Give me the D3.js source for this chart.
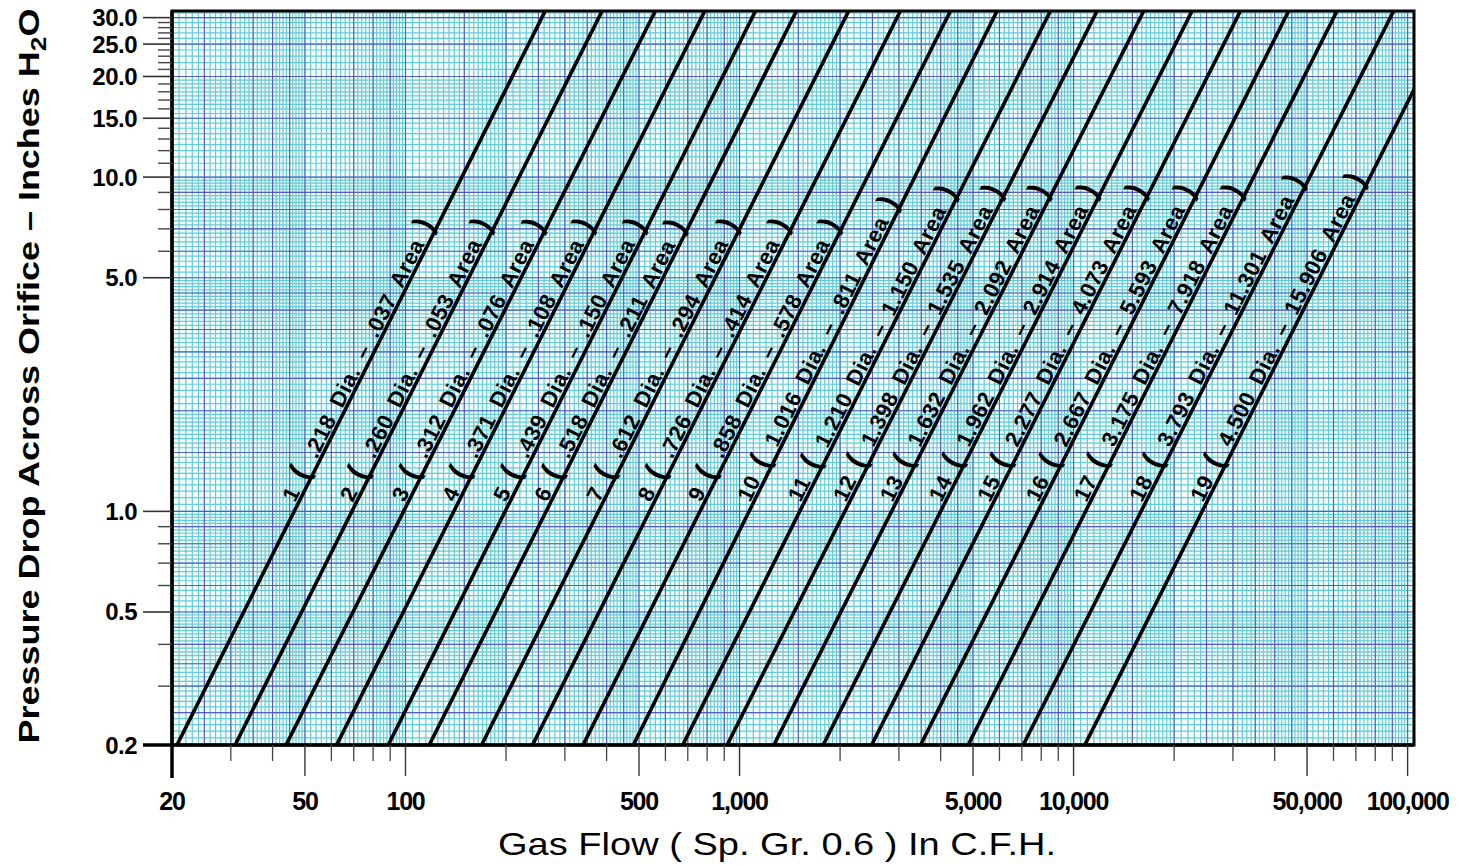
<!DOCTYPE html>
<html><head><meta charset="utf-8">
<script src="https://cdn.jsdelivr.net/npm/d3@7"></script>
<style>body{margin:0;background:#fff;} svg{display:block}</style>
</head><body>
<svg id="chart" width="1466" height="866"></svg>
<script>
// ---------------- data ----------------
const orificeNumbers = [1,2,3,4,5,6,7,8,9,10,11,12,13,14,15,16,17,18,19];
const diameters = [".218",".260",".312",".371",".439",".518",".612",".726",".858","1.016","1.210","1.398","1.632","1.962","2.277","2.667","3.175","3.793","4.500"];
const areas = [".037",".053",".076",".108",".150",".211",".294",".414",".578",".811","1.150","1.535","2.092","2.914","4.073","5.593","7.918","11.301","15.906"];
// gas flow (CFH) read where each line crosses 0.2" and 30" pressure drop
const flowAtLowDrop  = [20.7,30.9,43.9,62.2,88.8,117.8,169,240,340,481,676,918,1267,1780,2486,3484,4836,7066,10806];
const flowAtHighDrop = [256,379,547,769,1091,1447,2074,2962,4182,5768,8330,11490,15846,22120,30860,43040,60080,88740,134000];
const lowDrop = 0.2, highDrop = 30;
const xDomain = [20, 104500];
const yDomain = [0.2, 31.4];
const xTickValues = [20,50,100,500,1000,5000,10000,50000,100000];
const xTickLabels = ["20","50","100","500","1,000","5,000","10,000","50,000","100,000"];
const xMinorTicks = [30,40,60,70,80,90,200,300,400,600,700,800,900,2000,3000,4000,6000,7000,8000,9000,20000,30000,40000,60000,70000,80000,90000];
const yTickValues = [0.2,0.5,1,5,10,15,20,25,30];
const yTickLabels = ["0.2","0.5","1.0","5.0","10.0","15.0","20.0","25.0","30.0"];
const yMinorTicks = [0.3,0.4,0.6,0.7,0.8,0.9,6,7,8,9,11,12,13,14,16,17,18,19,21,22,23,24,26,27,28,29];
// graph-paper rulings within one decade (in hundredths)
const blueRulings = [100,150,200,250,300,350,400,450,500,600,700,800,900];
const fineRulingBands = [[100,200,5],[200,500,10],[500,1000,20]];

// ---------------- layout ----------------
const L=172, R=1414, T=11, B=745;
const svg = d3.select("#chart");
const x = d3.scaleLog().domain(xDomain).range([L,R]);
const y = d3.scaleLog().domain(yDomain).range([B,T]);

function rulings(domain){
  const fine=[], blue=[];
  const lo=Math.floor(Math.log10(domain[0])-1e-9), hi=Math.ceil(Math.log10(domain[1]));
  for(let e=lo;e<hi;e++){
    const b=Math.pow(10,e);
    fineRulingBands.forEach(([s,t,st])=>{ for(let k=s;k<t;k+=st){ const v=b*k/100; if(v>=domain[0]*0.999&&v<=domain[1]*1.001) fine.push(v);} });
    blueRulings.forEach(k=>{const v=b*k/100; if(v>=domain[0]*0.999&&v<=domain[1]*1.001) blue.push(v);});
  }
  return {fine, blue};
}
const gx = rulings(xDomain), gy = rulings(yDomain);
const cyan="#66cbd4", blue="#4c4cbc";

const grid = svg.append("g");
grid.append("rect").attr("x",L).attr("y",T).attr("width",R-L).attr("height",B-T).attr("fill","#f4fcfd");
grid.selectAll(".fx").data(gx.fine).join("line").attr("x1",d=>x(d)).attr("x2",d=>x(d)).attr("y1",T).attr("y2",B).attr("stroke",cyan).attr("stroke-width",1.2);
grid.selectAll(".fy").data(gy.fine).join("line").attr("y1",d=>y(d)).attr("y2",d=>y(d)).attr("x1",L).attr("x2",R).attr("stroke",cyan).attr("stroke-width",1.2);
grid.selectAll(".bx").data(gx.blue).join("line").attr("x1",d=>x(d)).attr("x2",d=>x(d)).attr("y1",T).attr("y2",B).attr("stroke",blue).attr("stroke-width",1.1).attr("stroke-opacity",0.85);
grid.selectAll(".by").data(gy.blue).join("line").attr("y1",d=>y(d)).attr("y2",d=>y(d)).attr("x1",L).attr("x2",R).attr("stroke",blue).attr("stroke-width",1.1).attr("stroke-opacity",0.85);

// clip
svg.append("clipPath").attr("id","plotclip").append("rect").attr("x",L).attr("y",T).attr("width",R-L).attr("height",B-T);

// orifice lines (straight in log-log): extend through plot and clip
const lines = svg.append("g").attr("clip-path","url(#plotclip)");
const labels = svg.append("g");
orificeNumbers.forEach((n,i)=>{
  const q1=flowAtLowDrop[i], q2=flowAtHighDrop[i];
  const slope = (Math.log(highDrop)-Math.log(lowDrop))/(Math.log(q2)-Math.log(q1));
  const qAt = p => Math.exp(Math.log(q1)+(Math.log(p)-Math.log(lowDrop))/slope);
  const pA = yDomain[0]*0.9, pB = yDomain[1]*1.1;
  lines.append("line").attr("x1",x(qAt(pA))).attr("y1",y(pA)).attr("x2",x(qAt(pB))).attr("y2",y(pB))
    .attr("stroke","#000").attr("stroke-width",3.6);
  // label
  const x1=x(q1), y1=y(lowDrop), x2=x(q2), y2=y(highDrop);
  const ang = Math.atan2(y2-y1, x2-x1);
  const pStart = 1.05;
  const sx = x(qAt(pStart)), sy = y(pStart);
  const off = 3;
  const px = sx + off*Math.sin(ang), py = sy - off*Math.cos(ang);
  const t = labels.append("text").attr("transform",`translate(${px},${py}) rotate(${ang*180/Math.PI})`)
    .attr("font-family","Liberation Sans, Arial, sans-serif").attr("font-weight","bold").attr("font-size",22)
    .attr("letter-spacing",0.5).attr("word-spacing",5).attr("fill","#000");
  t.append("tspan").text(n+" ");
  t.append("tspan").attr("font-size",30).text("( ");
  t.append("tspan").text(`${diameters[i]} Dia.  –  ${areas[i]}  Area `);
  t.append("tspan").attr("font-size",30).text(")");
});

// frame
svg.append("rect").attr("x",L).attr("y",T).attr("width",R-L).attr("height",B-T).attr("fill","none").attr("stroke","#000").attr("stroke-width",3);
svg.append("line").attr("x1",L).attr("x2",L).attr("y1",T).attr("y2",778).attr("stroke","#000").attr("stroke-width",3.5);
svg.append("line").attr("x1",143).attr("x2",R).attr("y1",B).attr("y2",B).attr("stroke","#000").attr("stroke-width",3.5);

// y axis ticks/labels
const ax = svg.append("g");
ax.selectAll(".ymaj").data(yTickValues.filter(v=>v!==0.2)).join("line").attr("x1",143).attr("x2",L).attr("y1",d=>y(d)).attr("y2",d=>y(d)).attr("stroke","#333").attr("stroke-width",1.6);
ax.selectAll(".ymin").data(yMinorTicks).join("line").attr("x1",158).attr("x2",L).attr("y1",d=>y(d)).attr("y2",d=>y(d)).attr("stroke","#444").attr("stroke-width",1.4);
ax.selectAll(".ylab").data(yTickValues).join("text").attr("x",137).attr("y",d=>y(d)+8.5).attr("text-anchor","end")
  .attr("font-family","Liberation Sans, Arial, sans-serif").attr("font-weight","bold").attr("font-size",24).attr("letter-spacing",-0.5)
  .text((d,i)=>yTickLabels[i]);
// x axis ticks/labels
ax.selectAll(".xmaj").data(xTickValues.filter(v=>v!==20)).join("line").attr("y1",B).attr("y2",776).attr("x1",d=>x(d)).attr("x2",d=>x(d)).attr("stroke","#333").attr("stroke-width",1.4);
ax.selectAll(".xmin").data(xMinorTicks).join("line").attr("y1",B).attr("y2",761).attr("x1",d=>x(d)).attr("x2",d=>x(d)).attr("stroke","#444").attr("stroke-width",1.3);
ax.selectAll(".xlab").data(xTickValues).join("text").attr("x",d=>x(d)).attr("y",810).attr("text-anchor","middle")
  .attr("font-family","Liberation Sans, Arial, sans-serif").attr("font-weight","bold").attr("font-size",25).attr("letter-spacing",-1.2)
  .text((d,i)=>xTickLabels[i]);

// axis titles
svg.append("text").attr("x",777).attr("y",855).attr("text-anchor","middle")
  .attr("font-family","Liberation Sans, Arial, sans-serif").attr("font-size",32).attr("textLength",558).attr("lengthAdjust","spacingAndGlyphs")
  .text("Gas Flow ( Sp. Gr. 0.6 ) In C.F.H.");
const yt = svg.append("text").attr("transform","translate(39,376) rotate(-90)").attr("text-anchor","middle")
  .attr("font-family","Liberation Sans, Arial, sans-serif").attr("font-weight","bold").attr("font-size",30)
  .attr("textLength",735).attr("lengthAdjust","spacingAndGlyphs");
yt.append("tspan").text("Pressure Drop Across Orifice – Inches H");
yt.append("tspan").attr("dy",7).attr("font-size",22).text("2");
yt.append("tspan").attr("dy",-7).text("O");
</script>
</body></html>
